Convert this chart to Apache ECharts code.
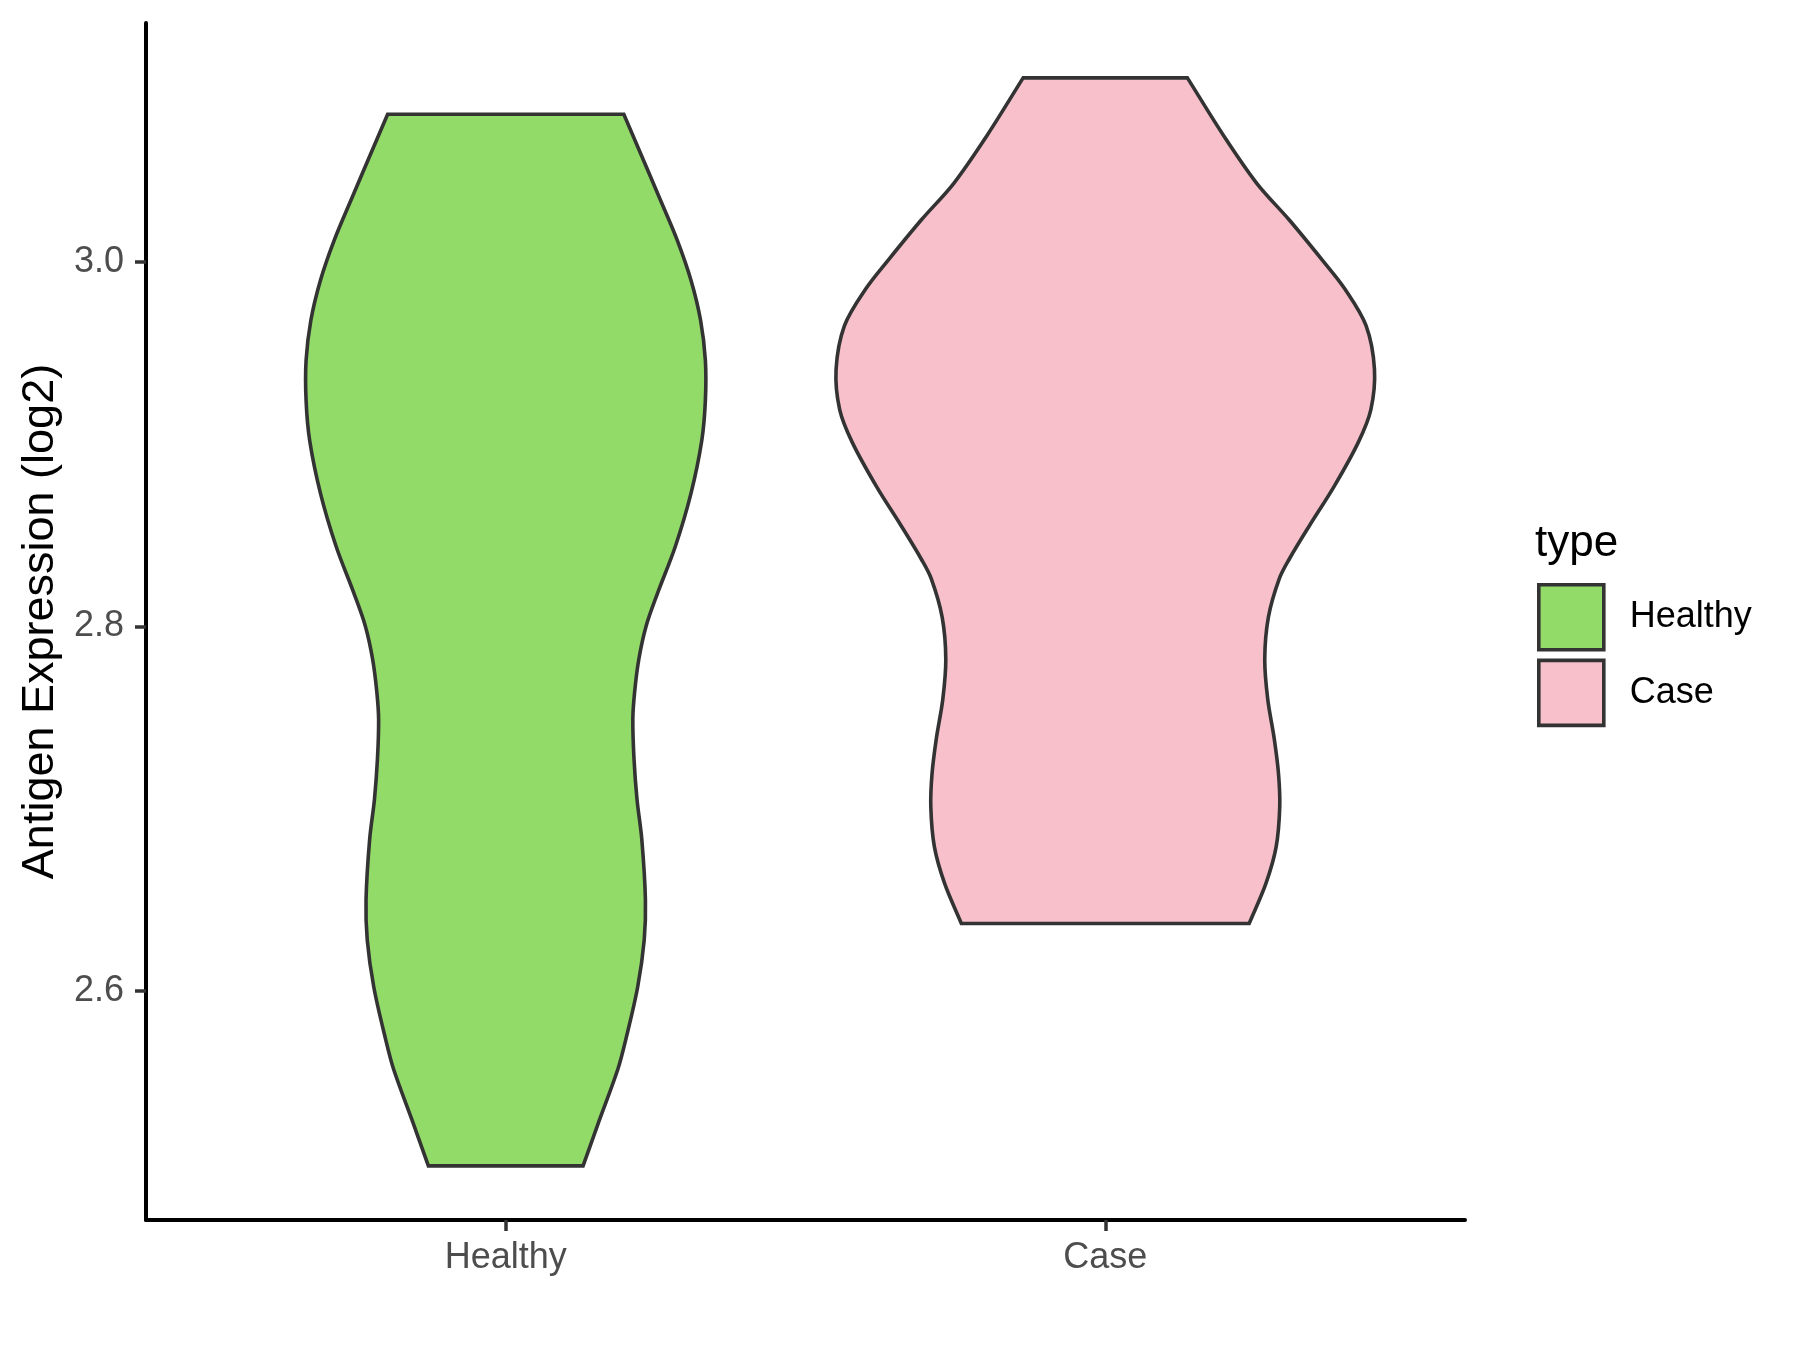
<!DOCTYPE html>
<html>
<head>
<meta charset="utf-8">
<title>Antigen Expression violin</title>
<script src="https://cdn.jsdelivr.net/npm/echarts@6/dist/echarts.min.js"></script>
<style>
body {
  margin: 0;
  background: #fff;
}
#chart {
  width: 1800px;
  height: 1350px;
}
</style>
</head>
<body>
<div id="chart"></div>
<script>
// categories and their colours
const categories = ['Healthy', 'Case']
const colors = ['#93DB69', '#F7C0CB']
const yTicks = [2.6, 2.8, 3.0]

// violin outlines: expression level (top -> bottom) and half width in category units
const healthyLevels = [3.081, 3.034, 3.012, 2.990, 2.968, 2.946, 2.924, 2.902, 2.873, 2.844, 2.818, 2.800, 2.782, 2.764, 2.749, 2.727, 2.705, 2.683, 2.650, 2.628, 2.602, 2.573, 2.557, 2.528, 2.504]
const healthyHalfWidth = [0.197, 0.258, 0.286, 0.309, 0.325, 0.333, 0.333, 0.327, 0.309, 0.283, 0.253, 0.234, 0.222, 0.215, 0.212, 0.214, 0.219, 0.227, 0.233, 0.231, 0.220, 0.200, 0.187, 0.155, 0.129]

const caseLevels = [3.101, 3.069, 3.043, 3.023, 3.001, 2.985, 2.965, 2.941, 2.919, 2.901, 2.877, 2.855, 2.837, 2.826, 2.805, 2.782, 2.760, 2.738, 2.719, 2.701, 2.679, 2.659, 2.637]
const caseHalfWidth = [0.137, 0.198, 0.253, 0.307, 0.362, 0.400, 0.435, 0.449, 0.443, 0.422, 0.382, 0.340, 0.307, 0.290, 0.272, 0.266, 0.271, 0.282, 0.289, 0.291, 0.285, 0.268, 0.240]

const violins = [
  { levels: healthyLevels, half: healthyHalfWidth },
  { levels: caseLevels, half: caseHalfWidth }
]

function dist(a, b) {
  return Math.hypot(b[0] - a[0], b[1] - a[1]) || 1
}

// tangent at a point, weighted for uneven spacing
function tangent(prev, cur, next) {
  const d = dist(prev, cur) + dist(cur, next)
  return [(next[0] - prev[0]) / d, (next[1] - prev[1]) / d]
}

// smooth curve through the outline points as cubic beziers
function curveThrough(ctx, pts) {
  for (let i = 0; i < pts.length - 1; i++) {
    const p0 = pts[i - 1] || pts[i]
    const p1 = pts[i]
    const p2 = pts[i + 1]
    const p3 = pts[i + 2] || p2
    const len = dist(p1, p2) / 3
    const t1 = tangent(p0, p1, p2)
    const t2 = tangent(p1, p2, p3)
    ctx.bezierCurveTo(
      p1[0] + t1[0] * len, p1[1] + t1[1] * len,
      p2[0] - t2[0] * len, p2[1] - t2[1] * len,
      p2[0], p2[1]
    )
  }
}

const ViolinShape = echarts.graphic.extendShape({
  shape: { left: [], right: [] },
  buildPath(ctx, shape) {
    const l = shape.left
    const r = shape.right
    if (!l.length) return
    ctx.moveTo(l[0][0], l[0][1])
    ctx.lineTo(r[0][0], r[0][1])
    curveThrough(ctx, r)
    ctx.lineTo(l[l.length - 1][0], l[l.length - 1][1])
    curveThrough(ctx, l.slice().reverse())
    ctx.closePath()
  }
})
echarts.graphic.registerShape('violin', ViolinShape)

function renderViolin(idx) {
  return function (params, api) {
    const v = violins[idx]
    const center = idx + 1
    const left = v.levels.map((y, i) => api.coord([center - v.half[i], y]))
    const right = v.levels.map((y, i) => api.coord([center + v.half[i], y]))
    return {
      type: 'violin',
      shape: { left, right },
      style: {
        fill: colors[idx],
        stroke: '#333333',
        lineWidth: 3.6
      }
    }
  }
}

const font = "'Liberation Sans', Arial, sans-serif"
const chart = echarts.init(document.getElementById('chart'))

const option = {
  animation: false,
  textStyle: { fontFamily: font },
  grid: {
    left: 146,
    right: 335,
    top: 23,
    bottom: 130
  },
  title: {
    text: 'type',
    left: 1530,
    top: 517,
    textStyle: {
      fontFamily: font,
      fontSize: 44,
      fontWeight: 'normal',
      color: '#000'
    }
  },
  legend: {
    orient: 'vertical',
    left: 1532,
    top: 578,
    itemWidth: 65,
    itemHeight: 65,
    itemGap: 7,
    icon: 'rect',
    selectedMode: false,
    textStyle: {
      fontFamily: font,
      fontSize: 36,
      color: '#000',
      padding: [0, 0, 0, 21]
    },
    data: categories.map((name, i) => ({
      name,
      itemStyle: { color: colors[i], borderColor: '#333333', borderWidth: 3.6 }
    }))
  },
  xAxis: {
    type: 'value',
    min: 0.4,
    max: 2.6,
    splitLine: { show: false },
    axisLine: { lineStyle: { color: '#000', width: 4 } },
    axisTick: {
      customValues: [1, 2],
      length: 11,
      lineStyle: { color: '#333', width: 3.5 }
    },
    axisLabel: {
      customValues: [1, 2],
      margin: 20,
      fontSize: 36,
      color: '#4D4D4D',
      fontFamily: font,
      formatter: v => categories[Math.round(v) - 1]
    }
  },
  yAxis: {
    type: 'value',
    min: 2.4743,
    max: 3.1311,
    name: 'Antigen Expression (log2)',
    nameLocation: 'middle',
    nameGap: 82,
    nameTextStyle: {
      fontFamily: font,
      fontSize: 45,
      color: '#000'
    },
    splitLine: { show: false },
    axisLine: { show: true, lineStyle: { color: '#000', width: 4 } },
    axisTick: {
      show: true,
      customValues: yTicks,
      length: 11,
      lineStyle: { color: '#333', width: 3.5 }
    },
    axisLabel: {
      customValues: yTicks,
      margin: 22,
      fontSize: 36,
      color: '#4D4D4D',
      fontFamily: font,
      formatter: v => v.toFixed(1)
    }
  },
  series: categories.map((name, i) => ({
    name,
    type: 'custom',
    coordinateSystem: 'cartesian2d',
    itemStyle: { color: colors[i] },
    renderItem: renderViolin(i),
    data: [[i + 1, violins[i].levels[0]]],
    encode: { x: 0, y: 1 }
  }))
}

chart.setOption(option)
</script>
</body>
</html>
